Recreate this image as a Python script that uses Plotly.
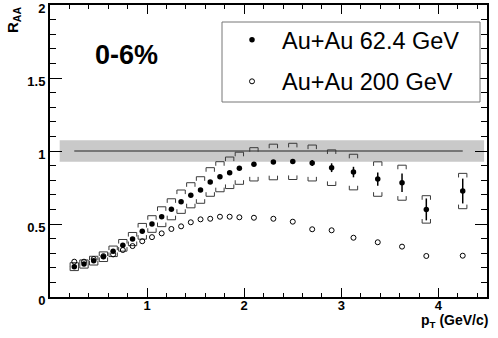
import plotly.graph_objects as go

# pT bin centres (GeV/c)
pt = [0.25, 0.35, 0.45, 0.55, 0.65, 0.75, 0.85, 0.95, 1.05, 1.15, 1.25, 1.35, 1.45, 1.55,
      1.65, 1.75, 1.85, 1.95, 2.1, 2.3, 2.5, 2.7, 2.9, 3.125, 3.375, 3.625, 3.875, 4.25]

# Au+Au 62.4 GeV, 0-6%
raa_62 = [0.208, 0.226, 0.249, 0.276, 0.313, 0.354, 0.397, 0.450, 0.500, 0.550, 0.601, 0.653,
          0.697, 0.733, 0.788, 0.824, 0.851, 0.882, 0.909, 0.925, 0.929, 0.918, 0.886, 0.856,
          0.808, 0.783, 0.600, 0.726]
stat_62 = [0.005, 0.005, 0.005, 0.005, 0.005, 0.006, 0.006, 0.006, 0.007, 0.007, 0.008, 0.008,
           0.009, 0.009, 0.010, 0.010, 0.011, 0.011, 0.012, 0.012, 0.015, 0.020, 0.030, 0.036,
           0.045, 0.063, 0.075, 0.085]
sys_62 = [0.027, 0.028, 0.030, 0.033, 0.036, 0.040, 0.045, 0.054, 0.057, 0.068, 0.072, 0.080,
          0.086, 0.091, 0.098, 0.103, 0.108, 0.110, 0.114, 0.122, 0.124, 0.123, 0.122, 0.122,
          0.118, 0.120, 0.094, 0.121]

# Au+Au 200 GeV
raa_200 = [0.242, 0.242, 0.260, 0.280, 0.292, 0.322, 0.349, 0.382, 0.410, 0.436, 0.466, 0.484,
           0.512, 0.532, 0.536, 0.550, 0.550, 0.546, 0.543, 0.536, 0.516, 0.464, 0.457, 0.406,
           0.375, 0.345, 0.281, 0.283]

# normalisation uncertainty band around unity
norm_err = 0.074
band_x = [0.1, 4.47]
unity_x = [0.25, 4.25]

font = "Liberation Sans, Arial, sans-serif"

# plot area in pixels (for placing paper-referenced items)
L, T, W, H = 50, 5, 437, 292
def px(x):
    return (x - L) / W
def py(y):
    return (T + H - y) / H

# brackets for systematic errors
w = 0.043
d = 0.028
bx, by = [], []
for x, y, s in zip(pt, raa_62, sys_62):
    top, bot = y + s, y - s
    bx += [x - w, x - w, x + w, x + w, None, x - w, x - w, x + w, x + w, None]
    by += [top - d, top, top, top - d, None, bot + d, bot, bot, bot + d, None]

fig = go.Figure()

fig.add_shape(type="rect", x0=band_x[0], x1=band_x[1], y0=1 - norm_err, y1=1 + norm_err,
              fillcolor="#c9c9c9", line_width=0, layer="below")

# legend frame
fig.add_shape(type="rect", xref="paper", yref="paper", x0=px(222), x1=px(480), y0=py(102), y1=py(22),
              line=dict(color="#777777", width=1), fillcolor="white", layer="above")

fig.add_trace(go.Scatter(x=unity_x, y=[1, 1], mode="lines",
                         line=dict(color="#5a5a5a", width=1.6), showlegend=False, hoverinfo="skip"))

fig.add_trace(go.Scatter(x=bx, y=by, mode="lines", line=dict(color="#3a3a3a", width=1),
                         showlegend=False, hoverinfo="skip"))

fig.add_trace(go.Scatter(x=pt, y=raa_62, mode="markers", name="Au+Au 62.4 GeV", legendgroup="a",
                         marker=dict(symbol="circle", size=5.5, color="black"),
                         error_y=dict(type="data", array=stat_62, color="black", thickness=1.5, width=0)))

fig.add_trace(go.Scatter(x=pt, y=raa_200, mode="markers", name="Au+Au 200 GeV", legendgroup="b",
                         marker=dict(symbol="circle-open", size=5, color="black", line=dict(width=1))))

fig.add_annotation(text="<b>0-6%</b>", xref="paper", yref="paper", x=px(126), y=py(55),
                   showarrow=False, font=dict(family=font, size=27, color="black"),
                   xanchor="center", yanchor="middle")
fig.add_annotation(text="<b>R<sub>AA</sub></b>", xref="paper", yref="paper", x=px(13), y=1.0,
                   textangle=-90, showarrow=False, font=dict(family=font, size=15, color="black"),
                   xanchor="center", yanchor="top")
fig.add_annotation(text="<b>p<sub>T</sub> (GeV/c)</b>", xref="paper", yref="paper", x=px(490), y=py(321),
                   showarrow=False, font=dict(family=font, size=14, color="black"),
                   xanchor="right", yanchor="middle")

axis_common = dict(showline=True, linecolor="black", linewidth=2, mirror="allticks",
                   ticks="inside", tickcolor="black", showgrid=False, zeroline=False,
                   automargin=False, ticklabeloverflow="allow",
                   tickfont=dict(family=font, size=13, color="black", weight="bold"))

fig.update_xaxes(range=[0, 4.5], tickvals=[1, 2, 3, 4], ticklen=9, tickwidth=1,
                 ticklabelstandoff=-5,
                 minor=dict(dtick=0.2, tick0=0, ticks="inside", ticklen=4, tickcolor="black"),
                 **axis_common)
fig.update_yaxes(range=[0, 2.0005], tickvals=[0, 0.5, 1, 1.5, 2], ticklen=12, tickwidth=1,
                 ticklabelshift=3,
                 minor=dict(dtick=0.1, tick0=0, ticks="inside", ticklen=6, tickcolor="black"),
                 **axis_common)

fig.update_layout(
    template="none",
    width=498, height=338,
    margin=dict(l=L, r=498 - L - W, t=T, b=338 - T - H),
    paper_bgcolor="white", plot_bgcolor="white",
    font=dict(family=font, color="black"),
    legend=dict(x=px(222), y=py(18), xanchor="left", yanchor="top",
                borderwidth=0, bgcolor="rgba(0,0,0,0)",
                font=dict(family=font, size=23.5, color="black"),
                itemwidth=50, tracegroupgap=8, traceorder="grouped"),
)

fig.write_html("out.html", config={"displayModeBar": False},
               post_script="document.body.style.margin='0';")
